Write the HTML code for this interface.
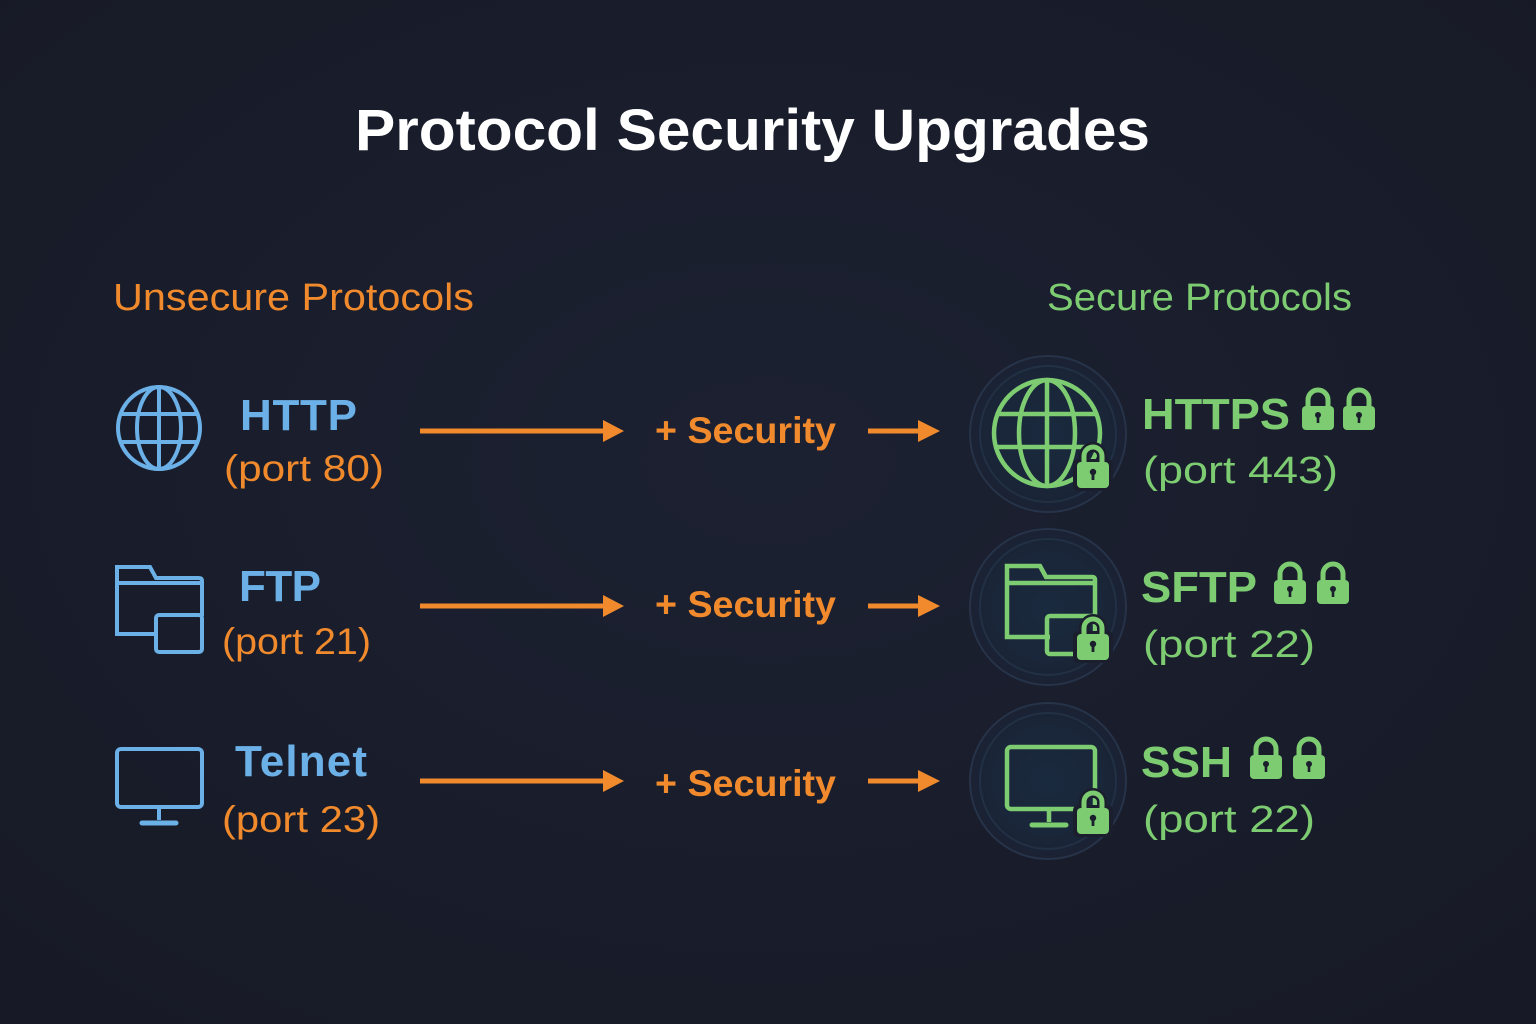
<!DOCTYPE html>
<html><head><meta charset="utf-8"><style>
html,body{margin:0;padding:0;background:#1a1e2d;}
svg{display:block}
text{font-family:"Liberation Sans",sans-serif}
</style></head><body>
<svg width="1536" height="1024" viewBox="0 0 1536 1024" xmlns="http://www.w3.org/2000/svg">
<defs>
<radialGradient id="bg" cx="50%" cy="45%" r="70%"><stop offset="0" stop-color="#1c2132"/><stop offset="1" stop-color="#171a26"/></radialGradient>
<radialGradient id="halo" cx="50%" cy="50%" r="50%"><stop offset="0" stop-color="#1a2a3e"/><stop offset="0.8" stop-color="#1a2538"/><stop offset="1" stop-color="#1b2133"/></radialGradient>
<g id="lock"><path d="M-10 -4 v-7 a10 10 0 0 1 20 0 v7" fill="none" stroke="#7dcc72" stroke-width="5"/><rect x="-16" y="-5" width="32" height="24" rx="4" fill="#7dcc72"/><circle cx="0" cy="4" r="3" fill="#1a1e2d"/><rect x="-1.3" y="4" width="2.6" height="8" fill="#1a1e2d"/></g>
<g id="lockb"><path d="M-9 -2 v-8 a9 9 0 0 1 18 0 v8" fill="none" stroke="#1a1e2d" stroke-width="10"/><rect x="-20" y="-7" width="40" height="32" rx="5" fill="#1a1e2d"/><path d="M-9 -2 v-8 a9 9 0 0 1 18 0 v8" fill="none" stroke="#7dcc72" stroke-width="5"/><rect x="-16" y="-4" width="32" height="26" rx="4" fill="#7dcc72"/><circle cx="0" cy="6" r="3.2" fill="#1a1e2d"/><rect x="-1.4" y="6" width="2.8" height="8" fill="#1a1e2d"/></g>
</defs>
<rect width="1536" height="1024" fill="url(#bg)"/>
<text x="355" y="150" font-size="58" font-weight="bold" fill="#fff" textLength="795" lengthAdjust="spacingAndGlyphs">Protocol Security Upgrades</text>
<text x="113" y="310" font-size="38" fill="#f08a2c" textLength="361" lengthAdjust="spacingAndGlyphs">Unsecure Protocols</text>
<text x="1047" y="310" font-size="38" fill="#7dcc72" textLength="305" lengthAdjust="spacingAndGlyphs">Secure Protocols</text>

<g fill="none" stroke="#6cb0e8" stroke-width="4">
<circle cx="159" cy="428" r="41"/><ellipse cx="159" cy="428" rx="22" ry="41"/><line x1="159" y1="387" x2="159" y2="469"/><line x1="119" y1="414" x2="199" y2="414"/><line x1="119" y1="442" x2="199" y2="442"/>
<path d="M158 634 H117 V567 H150 l6 11 H199 q3 0 3 3 V616"/><line x1="117" y1="583" x2="202" y2="583"/><rect x="156" y="615" width="46" height="37" rx="3"/>
<rect x="117" y="749" width="85" height="58" rx="4"/><line x1="159" y1="808" x2="159" y2="820"/><line x1="142" y1="823" x2="176" y2="823" stroke-width="5" stroke-linecap="round"/>
</g>
<g font-size="44" font-weight="bold" fill="#6cb0e8" lengthAdjust="spacingAndGlyphs"><text x="240" y="430" textLength="117">HTTP</text><text x="239" y="601" textLength="82">FTP</text><text x="235" y="776" textLength="132">Telnet</text></g>
<g font-size="37" fill="#f08a2c"><text x="224" y="481" textLength="160" lengthAdjust="spacingAndGlyphs">(port 80)</text><text x="222" y="654" textLength="149" lengthAdjust="spacingAndGlyphs">(port 21)</text><text x="222" y="832" textLength="158" lengthAdjust="spacingAndGlyphs">(port 23)</text></g>

<g stroke="#f08a2c" stroke-width="5" fill="#f08a2c">
<line x1="420" y1="431" x2="605" y2="431"/><path d="M603 420 L624 431 L603 442Z" stroke="none"/>
<line x1="868" y1="431" x2="920" y2="431"/><path d="M918 420 L940 431 L918 442Z" stroke="none"/>
<line x1="420" y1="606" x2="605" y2="606"/><path d="M603 595 L624 606 L603 617Z" stroke="none"/>
<line x1="868" y1="606" x2="920" y2="606"/><path d="M918 595 L940 606 L918 617Z" stroke="none"/>
<line x1="420" y1="781" x2="605" y2="781"/><path d="M603 770 L624 781 L603 792Z" stroke="none"/>
<line x1="868" y1="781" x2="920" y2="781"/><path d="M918 770 L940 781 L918 792Z" stroke="none"/>
</g>
<g font-size="37" font-weight="bold" fill="#f08a2c"><text x="655" y="443" textLength="181" lengthAdjust="spacingAndGlyphs">+ Security</text><text x="655" y="617" textLength="181" lengthAdjust="spacingAndGlyphs">+ Security</text><text x="655" y="796" textLength="181" lengthAdjust="spacingAndGlyphs">+ Security</text></g>

<g>
<circle cx="1048" cy="434" r="78" fill="url(#halo)" stroke="#263349" stroke-width="2"/><circle cx="1048" cy="434" r="68" fill="none" stroke="#223045" stroke-width="2"/>
<circle cx="1048" cy="607" r="78" fill="url(#halo)" stroke="#263349" stroke-width="2"/><circle cx="1048" cy="607" r="68" fill="none" stroke="#223045" stroke-width="2"/>
<circle cx="1048" cy="781" r="78" fill="url(#halo)" stroke="#263349" stroke-width="2"/><circle cx="1048" cy="781" r="68" fill="none" stroke="#223045" stroke-width="2"/>
</g>
<g fill="none" stroke="#7dcc72" stroke-width="4.5">
<circle cx="1047" cy="433" r="53"/><ellipse cx="1047" cy="433" rx="28" ry="53"/><line x1="1047" y1="380" x2="1047" y2="486"/><line x1="996" y1="414" x2="1098" y2="414"/><line x1="996" y1="447" x2="1098" y2="447"/>
<path d="M1050 637 H1007 V566 H1040 l6 11 H1092 q3 0 3 3 V615"/><line x1="1007" y1="583" x2="1095" y2="583"/><rect x="1047" y="616" width="48" height="38" rx="3"/>
<rect x="1007" y="747" width="88" height="62" rx="4"/><line x1="1049" y1="810" x2="1049" y2="822"/><line x1="1032" y1="825" x2="1066" y2="825" stroke-width="5" stroke-linecap="round"/>
</g>
<use href="#lockb" x="1093" y="466"/><use href="#lockb" x="1093" y="638"/><use href="#lockb" x="1093" y="812"/>
<g font-size="44" font-weight="bold" fill="#7dcc72"><text x="1142" y="429" textLength="148" lengthAdjust="spacingAndGlyphs">HTTPS</text><text x="1141" y="602" textLength="116" lengthAdjust="spacingAndGlyphs">SFTP</text><text x="1141" y="777" textLength="91" lengthAdjust="spacingAndGlyphs">SSH</text></g>
<use href="#lock" x="1318" y="411"/><use href="#lock" x="1359" y="411"/>
<use href="#lock" x="1290" y="585"/><use href="#lock" x="1333" y="585"/>
<use href="#lock" x="1266" y="760"/><use href="#lock" x="1309" y="760"/>
<g font-size="38" fill="#7dcc72"><text x="1143" y="483" textLength="195" lengthAdjust="spacingAndGlyphs">(port 443)</text><text x="1143" y="657" textLength="172" lengthAdjust="spacingAndGlyphs">(port 22)</text><text x="1143" y="832" textLength="172" lengthAdjust="spacingAndGlyphs">(port 22)</text></g>
</svg>
</body></html>
